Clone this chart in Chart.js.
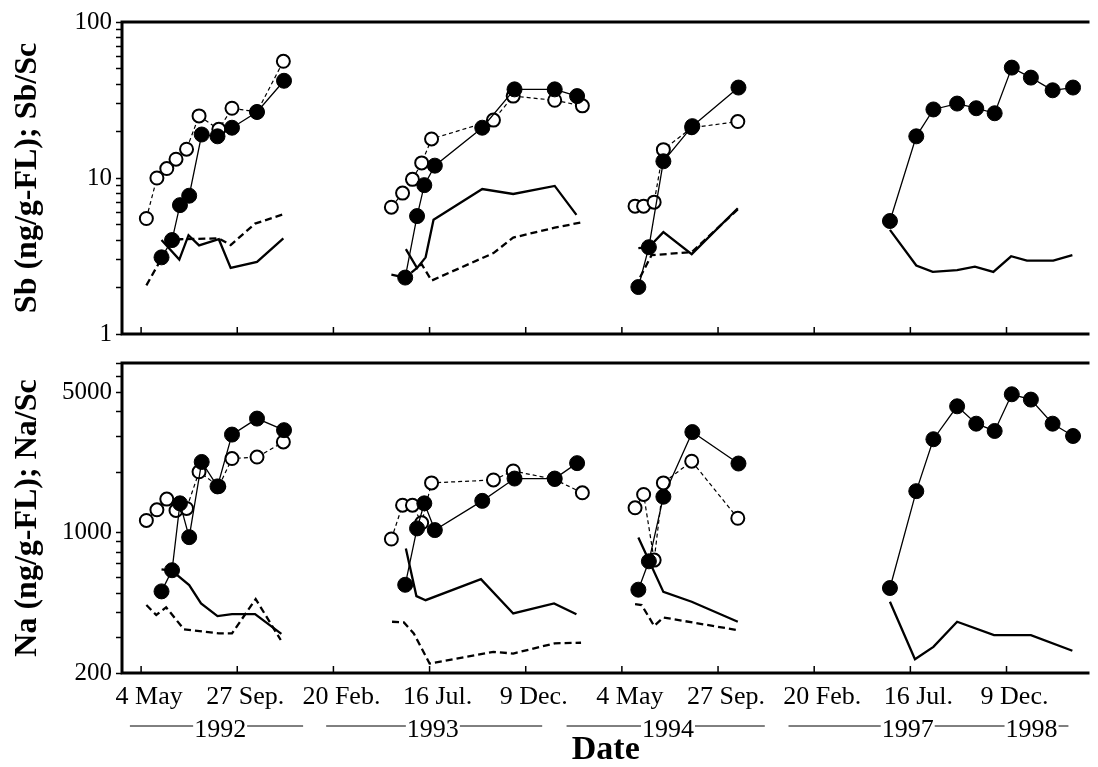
<!DOCTYPE html>
<html>
<head>
<meta charset="utf-8">
<script src="https://cdn.jsdelivr.net/npm/chart.js@4.4.1/dist/chart.umd.min.js"></script>
<style>
  body { margin: 0; background: #fff; }
  #wrap { position: relative; width: 1098px; height: 767px; background: #fff; }
  canvas { position: absolute; left: 0; }
</style>
</head>
<body>
<div id="wrap">
  <canvas id="naChart" width="1098" height="427" style="top:340px"></canvas>
  <canvas id="sbChart" width="1098" height="356" style="top:0"></canvas>
</div>
<script>
// x values are positions on the plotted (broken) time axis, in days after 4 May 1992;
// one tick every 146 days, the 1995-1996 gap is cut out of the axis
const xTickDays = [0, 146, 292, 438, 584, 730, 876, 1022, 1168, 1314];
const xTickLabels = ["4 May", "27 Sep.", "20 Feb.", "16 Jul.", "9 Dec.", "4 May", "27 Sep.", "20 Feb.", "16 Jul.", "9 Dec."];
const yearLabels = ["1992", "1993", "1994", "1997", "1998"];

// sampling dates, one sub-array per sampling season (1992, 1993, 1994, 1997-98)
const filledDays = [
  [31, 47, 59, 73, 92, 116, 138, 176, 217],
  [401, 419, 430, 446, 518, 567, 628, 662],
  [755, 771, 793, 837, 907],
  [1137, 1177, 1203, 1239, 1268, 1296, 1322, 1351, 1384, 1415]
];
const openDays = [
  [8, 24, 39, 53, 69, 88, 118, 138, 176, 216],
  [380, 397, 412, 426, 441, 535, 565, 628, 670],
  [750, 763, 779, 793, 836, 906],
  []
];

// ---- Sb panel ----
const sbFilled = [
  [3.1, 4.0, 6.7, 7.7, 19, 18.5, 21, 26.5, 42],
  [2.3, 5.7, 9.0, 12, 21, 37, 37, 33.5],
  [2.0, 3.6, 12.8, 21.5, 38],
  [5.3, 18.5, 27.5, 30, 28, 26, 51, 44, 36.5, 38]
];
const sbOpen = [
  [5.5, 10, 11.5, 13.2, 15.3, 25, 20.5, 28, 26.5, 56],
  [6.5, 8.0, 9.8, 12.5, 17.8, 23.5, 33.5, 31.5, 29],
  [6.6, 6.6, 7.0, 15.2, 21, 23],
  []
];
const sbSolidDays = [
  [31, 58, 72, 88, 118, 136, 176, 216],
  [402, 419, 432, 444, 518, 565, 628, 661],
  [755, 771, 793, 836, 906],
  [1137, 1177, 1202, 1239, 1266, 1294, 1321, 1345, 1385, 1414]
];
const sbSolid = [
  [4.0, 3.0, 4.3, 3.7, 4.05, 2.65, 2.9, 4.1],
  [3.5, 2.65, 3.1, 5.4, 8.5, 7.9, 8.9, 5.8],
  [3.55, 3.6, 4.5, 3.25, 6.4],
  [4.65, 2.75, 2.5, 2.57, 2.7, 2.5, 3.15, 2.95, 2.95, 3.2]
];
const sbDashedDays = [
  [8, 31, 48, 60, 118, 136, 173, 216],
  [380, 401, 426, 441, 535, 565, 628, 669],
  [750, 775, 836, 906],
  []
];
const sbDashed = [
  [2.05, 3.05, 3.9, 4.05, 4.1, 3.72, 5.1, 5.85],
  [2.4, 2.3, 2.8, 2.2, 3.3, 4.15, 4.8, 5.2],
  [2.0, 3.2, 3.35, 6.3],
  []
];
const sbTicks = [1, 2, 3, 4, 5, 6, 7, 8, 9, 10, 20, 30, 40, 50, 60, 70, 80, 90, 100];
const sbTickLabels = [1, 10, 100];

// ---- Na panel ----
const naFilled = [
  [510, 650, 1400, 950, 2250, 1700, 3080, 3700, 3240],
  [550, 1050, 1400, 1030, 1440, 1860, 1860, 2220],
  [520, 720, 1510, 3170, 2210],
  [530, 1610, 2920, 4260, 3490, 3210, 4890, 4600, 3490, 3030]
];
const naOpen = [
  [1150, 1300, 1470, 1290, 1320, 2010, 1700, 2340, 2380, 2830],
  [930, 1370, 1370, 1120, 1770, 1830, 2030, 1840, 1580],
  [1330, 1550, 730, 1770, 2270, 1180],
  []
];
const naSolidDays = [
  [31, 47, 73, 91, 116, 138, 173, 213],
  [402, 418, 432, 516, 565, 627, 661],
  [755, 793, 836, 906],
  [1137, 1175, 1203, 1239, 1295, 1351, 1414]
];
const naSolid = [
  [656, 646, 548, 444, 384, 393, 393, 313],
  [834, 483, 461, 587, 396, 444, 392],
  [946, 507, 453, 360],
  [453, 234, 270, 360, 309, 309, 258]
];
const naDashedDays = [
  [8, 23, 38, 65, 118, 138, 174, 212],
  [381, 399, 414, 438, 535, 565, 628, 668],
  [750, 760, 779, 793, 906],
  []
];
const naDashed = [
  [436, 389, 425, 330, 315, 315, 467, 292],
  [360, 357, 315, 223, 255, 250, 281, 283],
  [441, 436, 343, 378, 327],
  []
];
const naTicks = [200, 300, 400, 500, 600, 700, 800, 900, 1000, 2000, 3000, 4000, 5000, 6000, 7000];
const naTickLabels = [200, 1000, 5000];

const serif = "'Liberation Serif', 'Times New Roman', serif";
Chart.defaults.font.family = serif;
Chart.defaults.color = "#000";

// line / marker styles
const styles = {
  filled: { borderColor: "#000", borderWidth: 1.3, pointRadius: 7.5, pointBackgroundColor: "#000", pointBorderColor: "#000", pointBorderWidth: 1 },
  open: { borderColor: "#000", borderWidth: 1.2, borderDash: [4, 3], pointRadius: 6.5, pointBackgroundColor: "#fff", pointBorderColor: "#000", pointBorderWidth: 2 },
  solid: { borderColor: "#000", borderWidth: 2.3, pointRadius: 0 },
  dashed: { borderColor: "#000", borderWidth: 2.3, borderDash: [7, 4], pointRadius: 0 }
};

// one dataset per season so the line breaks between seasons
function seasonSets(days, vals, style) {
  return days.map((d, g) => ({
    type: "line",
    data: d.map((x, i) => ({ x: x, y: vals[g][i] })),
    tension: 0,
    fill: false,
    ...style
  })).filter(s => s.data.length);
}

// frame lines and inward x ticks
const frame = {
  id: "frame",
  afterDraw(chart) {
    const { ctx, chartArea: a } = chart;
    const x = chart.scales.x;
    ctx.save();
    ctx.strokeStyle = "#000";
    ctx.lineWidth = 3;
    ctx.beginPath();
    ctx.moveTo(a.left - 1.5, a.top); ctx.lineTo(a.right, a.top);
    ctx.moveTo(a.left - 1.5, a.bottom); ctx.lineTo(a.right, a.bottom);
    ctx.moveTo(a.left, a.top); ctx.lineTo(a.left, a.bottom);
    ctx.stroke();
    ctx.lineWidth = 1.5;
    ctx.beginPath();
    xTickDays.forEach(d => {
      const px = x.getPixelForValue(d);
      ctx.moveTo(px, a.bottom); ctx.lineTo(px, a.bottom - 7);
    });
    ctx.stroke();
    ctx.restore();
  }
};

// year row under the date labels: ——1992——
const yearSpans = [
  { from: -17, to: 246, years: [[0, 120]] },
  { from: 281, to: 609, years: [[1, 443]] },
  { from: 646, to: 947, years: [[2, 800]] },
  { from: 983, to: 1408, years: [[3, 1164], [4, 1352]] }
];
const yearRow = {
  id: "yearRow",
  afterDraw(chart) {
    const { ctx, chartArea: a } = chart;
    const x = chart.scales.x;
    const y = a.bottom + 55;
    ctx.save();
    ctx.font = "26px " + serif;
    ctx.textAlign = "center";
    ctx.textBaseline = "middle";
    yearSpans.forEach(s => {
      ctx.strokeStyle = "#000";
      ctx.lineWidth = 1;
      ctx.beginPath();
      ctx.moveTo(x.getPixelForValue(s.from), y - 2);
      ctx.lineTo(x.getPixelForValue(s.to), y - 2);
      ctx.stroke();
      s.years.forEach(([i, d]) => {
        const px = x.getPixelForValue(d);
        const w = ctx.measureText(yearLabels[i]).width;
        ctx.fillStyle = "#fff";
        ctx.fillRect(px - w / 2 - 1, y - 14, w + 2, 26);
        ctx.fillStyle = "#000";
        ctx.fillText(yearLabels[i], px, y + 2);
      });
    });
    ctx.restore();
  }
};

function yAxis(min, max, tickVals, labelVals, title) {
  return {
    type: "logarithmic",
    min: min,
    max: max,
    afterFit(s) { s.width = 122; },
    afterBuildTicks(s) { s.ticks = tickVals.map(v => ({ value: v })); },
    ticks: {
      autoSkip: false,
      padding: 4,
      font: { size: 25 },
      color: "#000",
      callback: v => labelVals.includes(v) ? String(v) : ""
    },
    grid: { drawOnChartArea: false, drawTicks: true, tickLength: 6, tickColor: "#000", tickWidth: 1.5 },
    border: { display: false },
    title: { display: true, text: title, color: "#000", font: { size: 32, weight: "bold", lineHeight: 1.2 }, padding: { top: 9, bottom: 0 } }
  };
}

const common = {
  responsive: false,
  animation: false,
  events: [],
  plugins: { legend: { display: false }, tooltip: { enabled: false } }
};

// ---- Sb chart ----
new Chart(document.getElementById("sbChart").getContext("2d"), {
  type: "line",
  data: {
    datasets: [
      ...seasonSets(filledDays, sbFilled, styles.filled),
      ...seasonSets(openDays, sbOpen, styles.open),
      ...seasonSets(sbSolidDays, sbSolid, styles.solid),
      ...seasonSets(sbDashedDays, sbDashed, styles.dashed)
    ]
  },
  options: {
    ...common,
    layout: { padding: { top: 22, right: 0, bottom: 22, left: 0 } },
    scales: {
      x: { type: "linear", min: -29, max: 1440, display: false },
      y: yAxis(1, 100, sbTicks, sbTickLabels, "Sb (ng/g-FL); Sb/Sc")
    }
  },
  plugins: [frame]
});

// ---- Na chart ----
new Chart(document.getElementById("naChart").getContext("2d"), {
  type: "line",
  data: {
    datasets: [
      ...seasonSets(filledDays, naFilled, styles.filled),
      ...seasonSets(openDays, naOpen, styles.open),
      ...seasonSets(naSolidDays, naSolid, styles.solid),
      ...seasonSets(naDashedDays, naDashed, styles.dashed)
    ]
  },
  options: {
    ...common,
    layout: { padding: { top: 23, right: 0, bottom: 0, left: 0 } },
    scales: {
      x: {
        type: "linear",
        min: -29,
        max: 1440,
        afterFit(s) { s.height = 94; },
        afterBuildTicks(s) { s.ticks = xTickDays.map(v => ({ value: v })); },
        ticks: {
          autoSkip: false,
          maxRotation: 0,
          padding: 9,
          labelOffset: 8,
          font: { size: 26 },
          color: "#000",
          callback: v => xTickLabels[xTickDays.indexOf(v)]
        },
        grid: { drawOnChartArea: false, drawTicks: false },
        border: { display: false },
        title: { display: true, text: "Date", color: "#000", font: { size: 34, weight: "bold", lineHeight: 1 }, padding: { top: 0, bottom: 0 } }
      },
      y: yAxis(200, 7000, naTicks, naTickLabels, "Na (ng/g-FL); Na/Sc")
    }
  },
  plugins: [frame, yearRow]
});
</script>
</body>
</html>
